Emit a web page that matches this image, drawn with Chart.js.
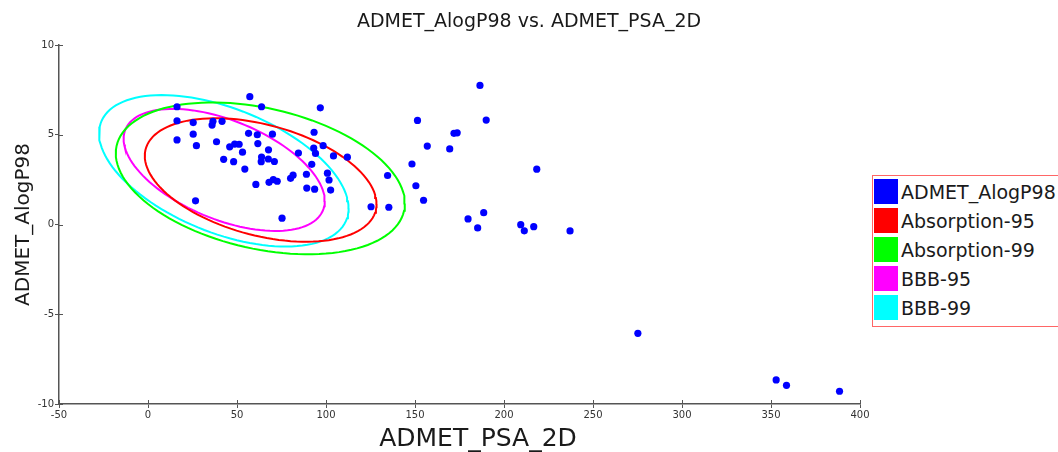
<!DOCTYPE html>
<html>
<head>
<meta charset="utf-8">
<script src="https://cdn.jsdelivr.net/npm/chart.js@4.4.1/dist/chart.umd.min.js"></script>
<style>
  html, body { margin: 0; padding: 0; background: #fff; }
  #wrap { position: relative; width: 1058px; height: 452px; overflow: hidden; }
  #legend {
    position: absolute; left: 872px; top: 175px; width: 200px; height: 152px;
    border: 1px solid #ff6666; box-sizing: border-box; background: #fff;
    font-family: "DejaVu Sans", sans-serif; font-size: 19px; color: #1a1a1a;
  }
  .item { position: absolute; left: 1px; height: 26px; line-height: 26px; white-space: nowrap; }
  .swatch { display: inline-block; width: 24px; height: 25px; vertical-align: top; margin-right: 3px; }
</style>
</head>
<body>
<div id="wrap">
  <canvas id="chart" width="1058" height="452"></canvas>
  <div id="legend"></div>
</div>
<script>
// scatter points
const psaValues = [57.2, 16.3, 63.8, 96.8, 16.3, 25.4, 36.5, 36.0, 41.6, 151.4,
  25.4, 16.3, 27.2, 38.5, 56.5, 61.4, 69.9, 93.3, 45.9, 48.7,
  51.2, 53.1, 61.7, 67.7, 63.8, 63.6, 67.6, 71.0, 42.5, 48.1,
  54.4, 84.5, 93.1, 98.4, 94.1, 104.2, 112.0, 92.0, 60.6, 68.0,
  70.4, 72.6, 80.1, 81.5, 89.0, 100.8, 101.7, 89.2, 93.6, 102.6,
  26.7, 75.3, 125.3, 135.3, 134.6, 148.3, 150.5, 186.5, 190.0, 171.9,
  173.7, 156.9, 169.5, 218.4, 154.8, 188.6, 179.8, 185.2, 209.4, 211.4,
  216.7, 275.2, 352.9, 358.7, 388.5, 237.1];
const alogpValues = [7.12, 6.56, 6.56, 6.50, 5.78, 5.68, 5.75, 5.54, 5.75, 5.80,
  5.03, 4.71, 4.39, 4.61, 5.08, 5.00, 5.03, 5.14, 4.33, 4.48,
  4.47, 4.03, 4.51, 4.16, 3.76, 3.50, 3.65, 3.51, 3.63, 3.50,
  3.09, 3.98, 4.26, 4.39, 3.96, 3.82, 3.75, 3.35, 2.23, 2.35,
  2.50, 2.41, 2.57, 2.75, 2.80, 2.86, 2.48, 2.03, 1.97, 1.92,
  1.32, 0.35, 0.99, 0.96, 2.73, 3.37, 2.16, 7.75, 5.82, 5.08,
  5.11, 4.37, 4.21, 3.08, 1.35, 0.66, 0.31, -0.19, -0.01, -0.35,
  -0.12, -6.06, -8.66, -8.96, -9.29, -0.36];

// confidence ellipses: centre, half-width (PSA), half-height (AlogP), tilt
const ellipseNames = ['Absorption-95', 'Absorption-99', 'BBB-95', 'BBB-99'];
const ellipseColors = ['#ff0000', '#00ff00', '#ff00ff', '#00ffff'];
const ellipseCenterX = [63.3, 63.1, 42.8, 42.6];
const ellipseCenterY = [2.48, 2.57, 3.04, 2.99];
const ellipseRadiusX = [65.1, 81.2, 56.5, 70.1];
const ellipseRadiusY = [3.44, 4.23, 3.40, 4.22];
const ellipseTilt = [-0.39, -0.33, -0.51, -0.495]; // cos of phase shift

const xTicks = { min: -50, max: 400, step: 50 };
const yTicks = { min: -10, max: 10, step: 5 };
const chartTitle = 'ADMET_AlogP98 vs. ADMET_PSA_2D';
const xTitle = 'ADMET_PSA_2D';

function ellipseOutline(i) {
  const pts = [];
  const delta = Math.acos(ellipseTilt[i]);
  for (let k = 0; k <= 120; k++) {
    const t = (k / 120) * 2 * Math.PI;
    pts.push({
      x: ellipseCenterX[i] + ellipseRadiusX[i] * Math.cos(t),
      y: ellipseCenterY[i] + ellipseRadiusY[i] * Math.cos(t - delta),
    });
  }
  return pts;
}

const datasets = [
  {
    label: 'ADMET_AlogP98',
    data: psaValues.map((x, i) => ({ x: x, y: alogpValues[i] })),
    backgroundColor: '#0000ff',
    borderColor: '#0000ff',
    pointRadius: 3.6,
    borderWidth: 0,
    showLine: false,
  },
];
ellipseNames.forEach((name, i) => {
  datasets.push({
    label: name,
    data: ellipseOutline(i),
    borderColor: ellipseColors[i],
    backgroundColor: ellipseColors[i],
    borderWidth: 2,
    pointRadius: 0,
    showLine: true,
    tension: 0,
  });
});

// titles placed like the original, ticks crossing the axis lines
const decorPlugin = {
  id: 'decor',
  afterDraw(chart) {
    const ctx = chart.ctx;
    const area = chart.chartArea;
    ctx.save();
    ctx.fillStyle = '#1a1a1a';
    ctx.textAlign = 'center';
    ctx.textBaseline = 'middle';
    ctx.font = '19px "DejaVu Sans", sans-serif';
    ctx.fillText(chartTitle, chart.width / 2, 22);
    ctx.font = '25px "DejaVu Sans", sans-serif';
    ctx.fillText(xTitle, 478, 439);

    ctx.strokeStyle = '#555';
    ctx.lineWidth = 1;
    chart.scales.x.ticks.forEach((t) => {
      const px = Math.round(chart.scales.x.getPixelForValue(t.value)) + 0.5;
      ctx.beginPath();
      ctx.moveTo(px, area.bottom);
      ctx.lineTo(px, area.bottom - 4);
      ctx.stroke();
    });
    chart.scales.y.ticks.forEach((t) => {
      const py = Math.round(chart.scales.y.getPixelForValue(t.value)) + 0.5;
      ctx.beginPath();
      ctx.moveTo(area.left, py);
      ctx.lineTo(area.left + 4, py);
      ctx.stroke();
    });
    ctx.restore();
  },
};

const tickFont = { family: '"DejaVu Sans", sans-serif', size: 10 };

new Chart(document.getElementById('chart'), {
  type: 'scatter',
  data: { datasets: datasets },
  plugins: [decorPlugin],
  options: {
    responsive: false,
    animation: false,
    layout: { padding: { left: 0, right: 198, top: 45, bottom: 0 } },
    plugins: {
      legend: { display: false },
      tooltip: { enabled: false },
      title: { display: false },
    },
    scales: {
      x: {
        type: 'linear',
        min: xTicks.min,
        max: xTicks.max,
        grid: { display: true, drawOnChartArea: false, tickLength: 4, color: '#555' },
        border: { color: '#555', width: 1.5 },
        ticks: { stepSize: xTicks.step, color: '#333', font: tickFont, padding: 1, maxRotation: 0 },
        title: { display: false },
        afterFit: (scale) => { scale.height = 48; },
      },
      y: {
        type: 'linear',
        min: yTicks.min,
        max: yTicks.max,
        grid: { display: true, drawOnChartArea: false, tickLength: 4, color: '#555' },
        border: { color: '#555', width: 1.5 },
        ticks: { stepSize: yTicks.step, color: '#333', font: tickFont, padding: 1 },
        title: {
          display: true, text: 'ADMET_AlogP98', color: '#1a1a1a',
          font: { family: '"DejaVu Sans", sans-serif', size: 20 }, padding: { top: 12, bottom: 6 },
        },
        afterFit: (scale) => { scale.width = 59; },
      },
    },
  },
});

// legend built from the same names and colours
const legend = document.getElementById('legend');
datasets.forEach((ds, i) => {
  const row = document.createElement('div');
  row.className = 'item';
  row.style.top = (3 + i * 29) + 'px';
  row.innerHTML = '<span class="swatch" style="background:' + ds.borderColor + '"></span>' + ds.label;
  legend.appendChild(row);
});
</script>
</body>
</html>
